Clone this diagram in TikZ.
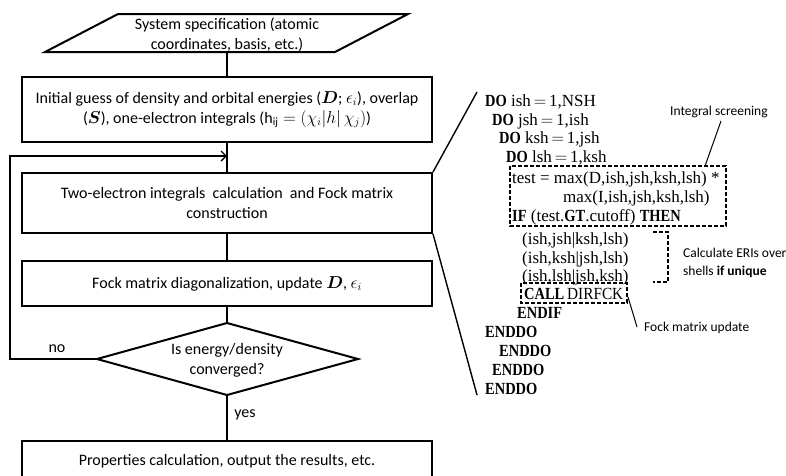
\documentclass[tikz,border=0pt]{standalone}
\usepackage{amsmath,bm}
\usepackage{fontspec}
\setmainfont{Carlito}
\newfontfamily\codefont{Liberation Serif}
\usetikzlibrary{arrows.meta,calc}
\newcommand{\kw}[1]{\scalebox{0.85}[1]{\textbf{#1}}}
\begin{document}
\begin{tikzpicture}[x=1pt,y=-1pt,
  box/.style={draw, line width=2pt, minimum width=410pt, align=center, inner sep=0pt,
    font=\fontsize{16}{20}\selectfont},
  conn/.style={line width=1.4pt},
  code/.style={anchor=base west, inner sep=0pt, font=\codefont\fontsize{17}{19}\selectfont},
  note/.style={anchor=west, inner sep=0pt, font=\fontsize{13.5}{18}\selectfont, align=left},
  dashbox/.style={draw, line width=1.5pt, dash pattern=on 4pt off 2pt},
  lbl/.style={inner sep=0pt, font=\fontsize{16}{20}\selectfont}]
\useasboundingbox (0,0) rectangle (786,475);
\clip (0,0) rectangle (786,475);

% parallelogram
\draw[line width=2pt] (45,52) -- (118,14) -- (408,14) -- (335,52) -- cycle;
\node[lbl, align=center] (sys) at (227,35) {System specification (atomic\\coordinates, basis, etc.)};
\coordinate (sysb) at (227,52);

\node[box, minimum height=65pt] (init) at (227,109.5)
  {Initial guess of density and orbital energies ($\bm{D}$;\ $\epsilon_i$), overlap\\
   ($\bm{S}$), one-electron integrals ($\mathrm{h}_{\mathrm{ij}}=(\chi_i|h|\,\chi_j)$)};
\node[box, minimum height=60pt] (twoe) at (227,203)
  {Two-electron integrals\ \ calculation\ \ and Fock matrix\\construction};
\node[box, minimum height=45pt] (diag) at (227,283.5)
  {Fock matrix diagonalization, update $\bm{D}$, $\epsilon_i$};

% decision diamond
\coordinate (dt) at (227,323);
\coordinate (dr) at (358,359);
\coordinate (db) at (227,395);
\coordinate (dl) at (97,359);
\draw[line width=2pt] (dt) -- (dr) -- (db) -- (dl) -- cycle;
\node[lbl, align=center] (conv) at (227,360) {Is energy/density\\converged?};

\node[box, minimum height=40pt] (prop) at (227,461)
  {Properties calculation, output the results, etc.};

\draw[conn] (sysb) -- (init.north);
\draw[conn] (init.south) -- (twoe.north);
\draw[conn] (twoe.south) -- (diag.north);
\draw[conn] (diag.south) -- (dt);
\draw[conn] (db) -- (prop.north);
\coordinate (loopin) at (227,156);
\coordinate (c1) at (10,359);
\coordinate (c2) at (10,156);
\draw[conn, -{Straight Barb[length=5pt,width=10pt,line width=1.4pt]}] (dl) -- (c1) -- (c2) -- (loopin);
\node[lbl] (no) at (57,349) {no};
\node[lbl] (yes) at (245,415) {yes};

% fan lines
\coordinate (ftop) at (477,92);
\coordinate (fbot) at (477,395);
\draw[conn] (twoe.north east) -- (ftop);
\draw[conn] (twoe.south east) -- (fbot);

% code
\node[code] (l1) at (485,106) {\kw{DO} ish$\,=\,$1,NSH};
\node[code] (l2) at (492,125) {\kw{DO} jsh$\,=\,$1,ish};
\node[code] (l3) at (499,143.5) {\kw{DO} ksh$\,=\,$1,jsh};
\node[code] (l4) at (506,162) {\kw{DO} lsh$\,=\,$1,ksh};
\node[code] (l5) at (512,183) {test = max(D,ish,jsh,ksh,lsh) *};
\node[code] (l6) at (563,202) {max(I,ish,jsh,ksh,lsh)};
\node[code] (l7) at (512,221) {\kw{IF} (test.\kw{GT}.cutoff) \kw{THEN}};
\node[code] (l8) at (522,244) {(ish,jsh|ksh,lsh)};
\node[code] (l9) at (522,263) {(ish,ksh|jsh,lsh)};
\node[code] (l10) at (522,281) {(ish,lsh|jsh,ksh)};
\node[code] (l11) at (524,299) {\kw{CALL}\,\scalebox{0.9}[1]{DIRFCK}};
\node[code] (l12) at (517,318) {\kw{ENDIF}};
\node[code] (l13) at (485,337) {\kw{ENDDO}};
\node[code] (l14) at (499,356) {\kw{ENDDO}};
\node[code] (l15) at (492,375) {\kw{ENDDO}};
\node[code] (l16) at (485,394) {\kw{ENDDO}};

% dashed boxes
\draw[dashbox] (510,166) rectangle (726,226);
\coordinate (scrtop) at (705,166);
\draw[dashbox] (521,283) rectangle (627,303);
\coordinate (callr) at (628,297);
\draw[dashbox] (653,232) -- (668,232) -- (668,282) -- (653,282);

% notes
\node[note] (scr) at (670,112) {Integral screening};
\draw[line width=1pt] (721,121) -- (scrtop);
\node[note] (eri) at (683,263) {Calculate ERIs over\\shells \textbf{if unique}};
\node[note] (fock) at (644,328) {Fock matrix update};
\draw[line width=1pt] (callr) -- (637,327);
\end{tikzpicture}
\end{document}
